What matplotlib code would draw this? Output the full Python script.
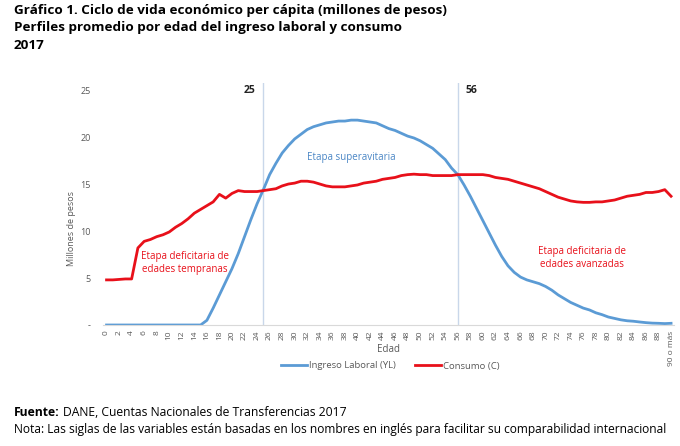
import numpy as np
import matplotlib as mpl
mpl.use('Agg')
import matplotlib.pyplot as plt

# ages 0..90 (90 = "90 o más")
edades = list(range(91))
tick_labels = [str(e) if e % 2 == 0 else '' for e in edades]
tick_labels[90] = '90 o más'

# Ingreso laboral (YL), millones de pesos
yl = [0, 0, 0, 0, 0, 0, 0, 0, 0, 0,
      0, 0, 0, 0, 0, 0, 0.5, 1.8, 3.2, 4.6,
      6.0, 7.6, 9.4, 11.2, 12.9, 14.4, 16.0, 17.2, 18.3, 19.1,
      19.8, 20.3, 20.8, 21.1, 21.3, 21.5, 21.6, 21.7, 21.7, 21.8,
      21.8, 21.7, 21.6, 21.5, 21.2, 20.9, 20.7, 20.4, 20.1, 19.9,
      19.6, 19.2, 18.8, 18.2, 17.6, 16.7, 16.0, 14.9, 13.7, 12.4,
      11.1, 9.8, 8.5, 7.3, 6.3, 5.6, 5.1, 4.8, 4.6, 4.4,
      4.1, 3.7, 3.2, 2.8, 2.4, 2.1, 1.8, 1.6, 1.3, 1.1,
      0.85, 0.7, 0.55, 0.45, 0.4, 0.32, 0.25, 0.2, 0.18, 0.15,
      0.18]

# Consumo (C), millones de pesos
consumo = [4.8, 4.8, 4.85, 4.9, 4.9, 8.2, 8.9, 9.1, 9.4, 9.6,
           9.9, 10.4, 10.8, 11.3, 11.9, 12.3, 12.7, 13.1, 13.9, 13.5,
           14.0, 14.3, 14.2, 14.2, 14.2, 14.3, 14.4, 14.5, 14.8, 15.0,
           15.1, 15.3, 15.3, 15.2, 15.0, 14.8, 14.7, 14.7, 14.7, 14.8,
           14.9, 15.1, 15.2, 15.3, 15.5, 15.6, 15.7, 15.9, 16.0, 16.05,
           16.0, 16.0, 15.9, 15.9, 15.9, 15.9, 16.0, 16.0, 16.0, 16.0,
           16.0, 15.9, 15.7, 15.6, 15.5, 15.3, 15.1, 14.9, 14.7, 14.5,
           14.2, 13.9, 13.6, 13.4, 13.2, 13.1, 13.05, 13.05, 13.1, 13.1,
           13.2, 13.3, 13.5, 13.7, 13.8, 13.9, 14.1, 14.1, 14.2, 14.4,
           13.7]

etapas = [25, 56]

azul = '#5b9bd5'
rojo = '#e8101a'
gris = '#595959'

plt.rcParams['font.family'] = ['Open Sans', 'DejaVu Sans']

W, H = 680, 446
fig = plt.figure(figsize=(W / 100, H / 100), dpi=100)
ax = fig.add_axes([103.4 / W, 1 - 325 / H, (674.2 - 103.4) / W, (325 - 83) / H])

ax.plot(edades, yl, color=azul, lw=2.0, label='Ingreso Laboral (YL)')
ax.plot(edades, consumo, color=rojo, lw=2.0, label='Consumo (C)')

for e in etapas:
    ax.axvline(e, color='#c9d7ea', lw=1.0, zorder=0)
ax.text(25 - 1.2, 25.0, '25', ha='right', va='center', fontsize=7.5, fontweight='bold', color='#222222')
ax.text(56 + 1.2, 25.0, '56', ha='left', va='center', fontsize=7.5, fontweight='bold', color='#222222')

ax.text(39, 17.8, 'Etapa superavitaria', color='#4a86c5', fontsize=7, ha='center', va='center')
ax.text(12.5, 6.6, 'Etapa deficitaria de\nedades tempranas', color=rojo, fontsize=7,
        ha='center', va='center', linespacing=1.3)
ax.text(75.8, 7.1, 'Etapa deficitaria de\nedades avanzadas', color=rojo, fontsize=7,
        ha='center', va='center', linespacing=1.3)

ax.set_xlim(-0.5, 90.5)
ax.set_ylim(0, 25.75)
ax.set_xticks(edades)
ax.set_xticklabels(tick_labels, rotation=90, fontsize=6, color=gris)
ax.set_yticks([0, 5, 10, 15, 20, 25])
ax.set_yticklabels(['-', '5', '10', '15', '20', '25'], fontsize=6.5, color=gris)
ax.tick_params(axis='both', length=0)
ax.tick_params(axis='y', pad=9)
ax.tick_params(axis='x', pad=4)
for s in ['top', 'right', 'left']:
    ax.spines[s].set_visible(False)
ax.spines['bottom'].set_color('#d9d9d9')

fig.text(388 / W, 1 - 350 / H, 'Edad', ha='center', va='center', fontsize=7, color=gris)
fig.text(72 / W, 1 - 228 / H, 'Millones de pesos', rotation=90, ha='center', va='center',
         fontsize=6.5, color=gris)

fig.legend(loc='center', bbox_to_anchor=(390 / W, 1 - 366 / H), ncol=2, frameon=False,
           fontsize=6.8, handlelength=2.8, columnspacing=2.0, handletextpad=0.2,
           labelcolor=gris)

fig.text(14 / W, 1 - 4 / H,
         'Gráfico 1. Ciclo de vida económico per cápita (millones de pesos)\n'
         'Perfiles promedio por edad del ingreso laboral y consumo\n2017',
         ha='left', va='top', fontsize=9.7, fontweight='bold', linespacing=1.45)

t1 = fig.text(14 / W, 1 - 412 / H, 'Fuente:', ha='left', va='center', fontsize=8.7, fontweight='bold')
fig.canvas.draw()
bb = t1.get_window_extent()
fig.text(bb.x1 / W + 3 / W, 1 - 412 / H, 'DANE, Cuentas Nacionales de Transferencias 2017',
         ha='left', va='center', fontsize=8.7)
fig.text(14 / W, 1 - 430 / H,
         'Nota: Las siglas de las variables están basadas en los nombres en inglés para facilitar su comparabilidad internacional',
         ha='left', va='center', fontsize=8.65)

fig.savefig('out.png', dpi=100, facecolor='white')
